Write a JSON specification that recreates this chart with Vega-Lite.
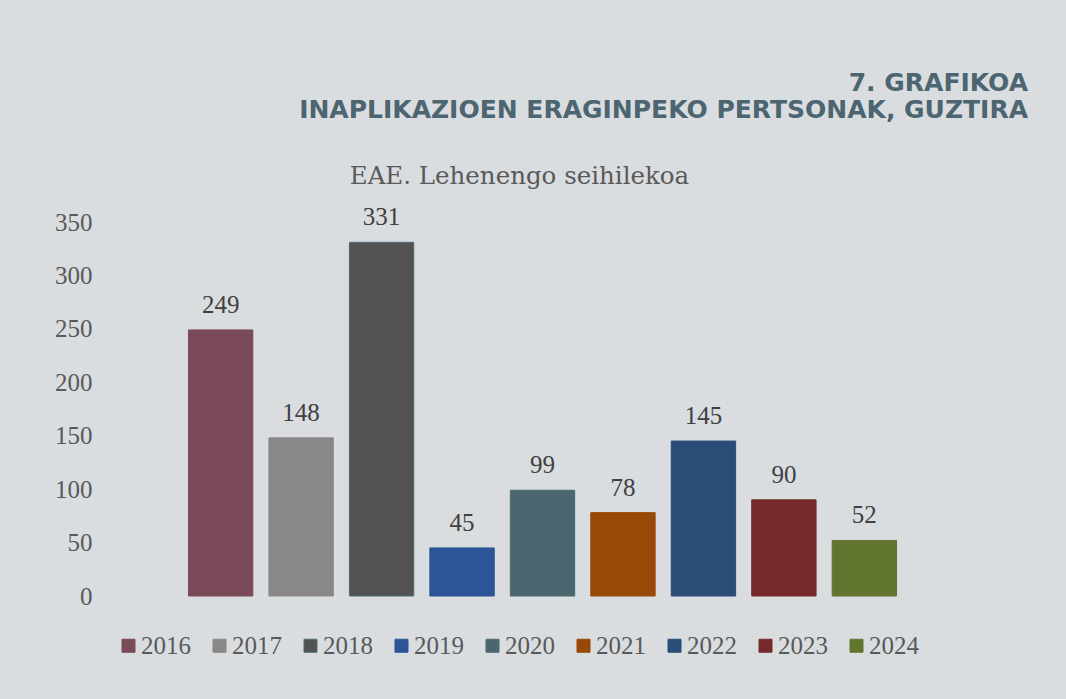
{
  "$schema": "https://vega.github.io/schema/vega-lite/v6.json",
  "width": 869,
  "height": 374,
  "autosize": "none",
  "padding": {"left": 108, "top": 222, "right": 89, "bottom": 103},
  "background": "#d9dde0",
  "config": {
    "view": {"stroke": null},
    "legend": {"padding": 0}
  },
  "title": {
    "text": ["7. GRAFIKOA", "INAPLIKAZIOEN ERAGINPEKO PERTSONAK, GUZTIRA"],
    "anchor": "end",
    "frame": "group",
    "font": "DejaVu Sans",
    "fontWeight": "bold",
    "fontSize": 25,
    "lineHeight": 27,
    "color": "#4c6570",
    "dx": 51,
    "offset": 40
  },
  "data": {
    "values": [
      {"year": "2016", "value": 249},
      {"year": "2017", "value": 148},
      {"year": "2018", "value": 331},
      {"year": "2019", "value": 45},
      {"year": "2020", "value": 99},
      {"year": "2021", "value": 78},
      {"year": "2022", "value": 145},
      {"year": "2023", "value": 90},
      {"year": "2024", "value": 52}
    ]
  },
  "encoding": {
    "x": {
      "field": "year",
      "type": "nominal",
      "scale": {"paddingInner": 0.2, "paddingOuter": 1},
      "axis": {
        "orient": "top",
        "labels": false,
        "ticks": false,
        "domain": false,
        "grid": false,
        "title": "EAE. Lehenengo seihilekoa",
        "titleFont": "DejaVu Serif",
        "titleFontSize": 24.5,
        "titleFontWeight": "normal",
        "titleColor": "#595959",
        "titleX": 411,
        "titleY": -39,
        "titleBaseline": "alphabetic",
        "titleAlign": "center"
      }
    },
    "y": {
      "field": "value",
      "type": "quantitative",
      "scale": {"domain": [0, 350]},
      "axis": {
        "values": [0, 50, 100, 150, 200, 250, 300, 350],
        "title": null,
        "grid": false,
        "domain": false,
        "ticks": false,
        "labelPadding": 16,
        "labelFont": "Liberation Serif",
        "labelFontSize": 25,
        "labelColor": "#595959"
      }
    }
  },
  "layer": [
    {
      "mark": {"type": "bar", "strokeWidth": 1},
      "encoding": {
        "color": {
          "field": "year",
          "type": "nominal",
          "scale": {
            "domain": ["2016", "2017", "2018", "2019", "2020", "2021", "2022", "2023", "2024"],
            "range": ["#7b4a59", "#898787", "#525252", "#2c5597", "#4c6670", "#984906", "#294d76", "#762a2b", "#61752f"]
          },
          "legend": {
            "orient": "none",
            "legendX": 8,
            "legendY": 411,
            "direction": "horizontal",
            "title": null,
            "symbolType": "square",
            "symbolSize": 169,
            "symbolStrokeWidth": 1,
            "labelFont": "Liberation Serif",
            "labelFontSize": 25,
            "labelColor": "#595959",
            "labelOffset": 0,
            "columnPadding": 16
          }
        },
        "stroke": {
          "field": "year",
          "type": "nominal",
          "scale": {
            "domain": ["2016", "2017", "2018", "2019", "2020", "2021", "2022", "2023", "2024"],
            "range": ["#7b4a59", "#898787", "#4f6b75", "#2c5597", "#4c6670", "#984906", "#294d76", "#762a2b", "#61752f"]
          }
        }
      }
    },
    {
      "mark": {
        "type": "text",
        "baseline": "alphabetic",
        "dy": -17,
        "font": "Liberation Serif",
        "fontSize": 25,
        "color": "#404040"
      },
      "encoding": {
        "text": {"field": "value", "type": "quantitative"}
      }
    }
  ]
}
